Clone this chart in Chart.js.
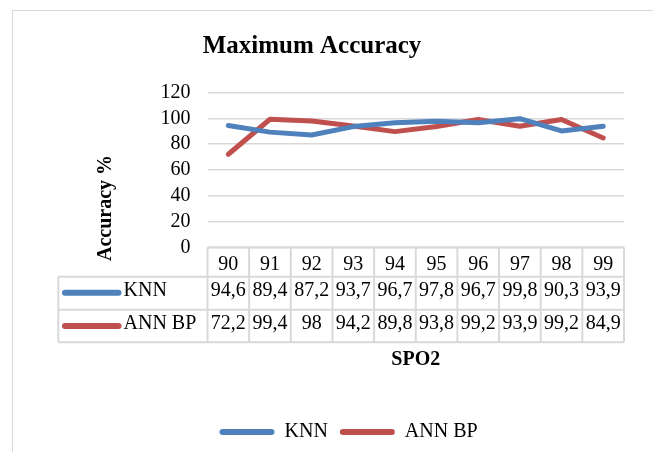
<!DOCTYPE html>
<html><head><meta charset="utf-8">
<script src="https://cdn.jsdelivr.net/npm/chart.js@4.4.1/dist/chart.umd.min.js"></script>
<style>html,body{margin:0;padding:0;background:#fff;}#wrap{width:653px;height:452px;position:relative;}</style>
</head><body><div id="wrap"><canvas id="c"></canvas></div>
<script>
const categories = ['90','91','92','93','94','95','96','97','98','99'];
const knnValues = [94.6, 89.4, 87.2, 93.7, 96.7, 97.8, 96.7, 99.8, 90.3, 93.9];
const annBpValues = [72.2, 99.4, 98, 94.2, 89.8, 93.8, 99.2, 93.9, 99.2, 84.9];
const seriesNames = ['KNN', 'ANN BP'];
const yMin = 0, yMax = 120, yStep = 20;
const chartTitle = 'Maximum Accuracy';
const yTitle = 'Accuracy %';
const xTitle = 'SPO2';

const FONT = "'Liberation Serif', 'Times New Roman', serif";
Chart.defaults.font.family = FONT;
Chart.defaults.color = '#000';

const fmt = v => String(v).replace('.', ',');

const tablePlugin = {
  id: 'dataTable',
  beforeDraw(chart) {
    const ctx = chart.ctx;
    ctx.save();
    ctx.strokeStyle = '#D9D9D9';
    ctx.lineWidth = 1;
    ctx.strokeRect(12.5, 10.5, 700, 500);
    ctx.restore();
  },
  afterDraw(chart) {
    const ctx = chart.ctx;
    const xs = chart.scales.x;
    const area = chart.chartArea;
    const colW = xs.getPixelForValue(1) - xs.getPixelForValue(0);
    const left = xs.getPixelForValue(0) - colW / 2;
    const right = left + colW * categories.length;
    const r0 = area.bottom, r1 = r0 + 29.5, r2 = r1 + 33, r3 = r2 + 32.5;
    const tableLeft = 58.3;
    ctx.save();
    ctx.strokeStyle = '#D9D9D9';
    ctx.lineWidth = 2;
    ctx.beginPath();
    ctx.moveTo(left, r0); ctx.lineTo(right, r0);
    [r1, r2, r3].forEach(y => { ctx.moveTo(tableLeft, y); ctx.lineTo(right, y); });
    for (let i = 0; i <= categories.length; i++) {
      const x = left + i * colW;
      ctx.moveTo(x, r0); ctx.lineTo(x, r3);
    }
    ctx.moveTo(tableLeft, r1); ctx.lineTo(tableLeft, r3);
    ctx.stroke();

    ctx.fillStyle = '#000';
    ctx.font = '20px ' + FONT;
    ctx.textAlign = 'center';
    ctx.textBaseline = 'alphabetic';
    const rows = [
      { vals: knnValues, base: r2 - 13.5, ds: chart.data.datasets[0] },
      { vals: annBpValues, base: r3 - 13, ds: chart.data.datasets[1] }
    ];
    categories.forEach((c, i) => {
      const cx = xs.getPixelForValue(i);
      ctx.fillText(c, cx, r1 - 6.5);
      rows.forEach(r => ctx.fillText(fmt(r.vals[i]), cx, r.base));
    });
    rows.forEach((r, k) => {
      const cy = k === 0 ? (r1 + r2) / 2 - 0.5 : (r2 + r3) / 2;
      ctx.strokeStyle = r.ds.borderColor;
      ctx.lineWidth = 6;
      ctx.lineCap = 'round';
      ctx.beginPath();
      ctx.moveTo(65, cy); ctx.lineTo(118.5, cy);
      ctx.stroke();
      ctx.textAlign = 'left';
      ctx.fillText(r.ds.label, 123.5, r.base);
    });

    ctx.font = 'bold 20px ' + FONT;
    ctx.translate(106, 208);
    ctx.rotate(-Math.PI / 2);
    ctx.textAlign = 'center';
    ctx.textBaseline = 'middle';
    ctx.fillText(yTitle, 0, 0);
    ctx.restore();
  }
};

new Chart(document.getElementById('c'), {
  type: 'line',
  data: {
    labels: categories,
    datasets: [
      { label: seriesNames[0], data: knnValues, borderColor: '#4F81BD', backgroundColor: '#4F81BD',
        borderWidth: 5, pointRadius: 0, tension: 0, borderJoinStyle: 'round', borderCapStyle: 'round' },
      { label: seriesNames[1], data: annBpValues, borderColor: '#C0504D', backgroundColor: '#C0504D',
        borderWidth: 5, pointRadius: 0, tension: 0, borderJoinStyle: 'round', borderCapStyle: 'round' }
    ]
  },
  options: {
    responsive: true,
    maintainAspectRatio: false,
    animation: false,
    layout: { padding: { left: 0, right: 29, top: 0, bottom: 0 } },
    plugins: {
      title: { display: true, text: chartTitle, color: '#000',
        font: { size: 25, weight: 'bold', family: FONT }, padding: { top: 31.7, bottom: 31 } },
      legend: {
        position: 'bottom', align: 'start', fullSize: false,
        labels: {
          boxWidth: 55, boxHeight: 6, useBorderRadius: true, borderRadius: 3, padding: 12,
          color: '#000', font: { size: 20, family: FONT },
          generateLabels: (chart) => Chart.defaults.plugins.legend.labels.generateLabels(chart)
            .map(l => Object.assign(l, { lineWidth: 0, fillStyle: l.strokeStyle }))
        }
      },
      tooltip: { enabled: false }
    },
    scales: {
      x: {
        offset: true,
        grid: { display: false },
        border: { display: false },
        ticks: { display: false },
        title: { display: true, text: xTitle, color: '#000',
          font: { size: 20, weight: 'bold', family: FONT }, padding: { top: 0, bottom: 38 } },
        afterFit: s => { s.height = 162.7; }
      },
      y: {
        min: yMin, max: yMax,
        ticks: { stepSize: yStep, autoSkip: false, padding: 17, color: '#000', font: { size: 20, family: FONT } },
        grid: { color: '#D9D9D9', lineWidth: 1.5, drawTicks: false },
        border: { display: false },
        afterFit: s => { s.width = 207.5; }
      }
    }
  },
  plugins: [tablePlugin]
});
</script>
</body></html>
